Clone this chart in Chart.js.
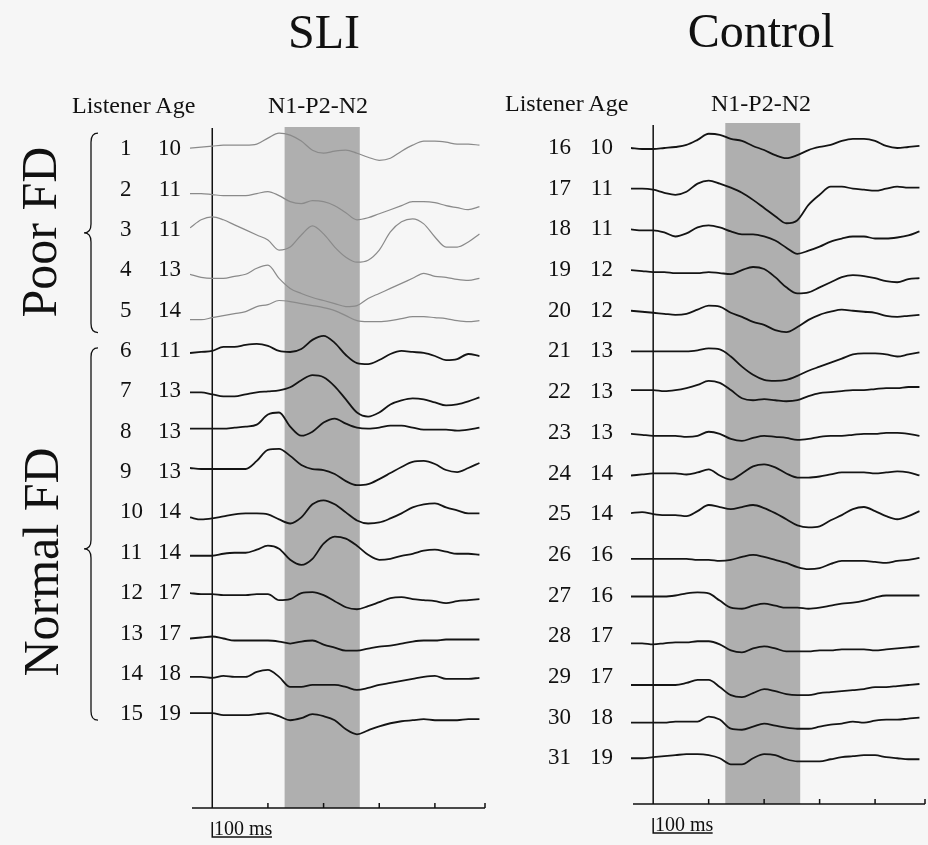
<!DOCTYPE html>
<html>
<head>
<meta charset="utf-8">
<script src="https://cdn.jsdelivr.net/npm/chart.js@4.4.0/dist/chart.umd.min.js"></script>
<style>
  body { margin: 0; background: #f6f6f6; }
  #page { position: relative; width: 928px; height: 845px; overflow: hidden; font-family: "Liberation Serif", "Times New Roman", serif; color: #111; }
  canvas { position: absolute; top: 0; }
  .txt { position: absolute; white-space: nowrap; line-height: 1; }
</style>
</head>
<body>
<div id="page">
  <canvas id="sliChart" width="500" height="845" style="left:0"></canvas>
  <canvas id="controlChart" width="428" height="845" style="left:500px"></canvas>

  <div class="txt" style="left:324px;top:8px;font-size:48px;transform:translateX(-50%)">SLI</div>
  <div class="txt" style="left:761px;top:7px;font-size:48px;transform:translateX(-50%)">Control</div>
  <div class="txt" style="left:72px;top:93px;font-size:24px">Listener Age</div>
  <div class="txt" style="left:318px;top:93px;font-size:24px;transform:translateX(-50%)">N1-P2-N2</div>
  <div class="txt" style="left:505px;top:91px;font-size:24px">Listener Age</div>
  <div class="txt" style="left:761px;top:91px;font-size:24px;transform:translateX(-50%)">N1-P2-N2</div>
  <div class="txt" style="left:39px;top:232px;font-size:50px;transform:translate(-50%,-50%) rotate(-90deg)">Poor FD</div>
  <div class="txt" style="left:41px;top:562px;font-size:50px;transform:translate(-50%,-50%) rotate(-90deg)">Normal FD</div>
  <div class="txt" style="left:214px;top:818px;font-size:20px">100 ms</div>
  <div class="txt" style="left:655px;top:814px;font-size:20px">100 ms</div>
</div>

<script>
// time of each sample (ms)
var times = [-40, -20, 0, 20, 40, 60, 80, 100, 120, 140, 160, 180, 200, 220, 240, 260, 280, 300, 320, 340, 360, 380, 400, 420, 440, 460, 480];
var msTicks = [0, 100, 200, 300, 400, 490];
var windowMs = [130, 265]; // N1-P2-N2 window
var scaleBarMs = 100;
var rowGap = 40;

var sliListeners = [1, 2, 3, 4, 5, 6, 7, 8, 9, 10, 11, 12, 13, 14, 15];
var sliAges = [10, 11, 11, 13, 14, 11, 13, 13, 13, 14, 14, 17, 17, 18, 19];
var controlListeners = [16, 17, 18, 19, 20, 21, 22, 23, 24, 25, 26, 27, 28, 29, 30, 31];
var controlAges = [10, 11, 11, 12, 12, 13, 13, 13, 14, 14, 16, 16, 17, 17, 18, 19];

// poor FD = first five SLI listeners
var poorFdRows = [0, 1, 2, 3, 4];
var normalFdRows = [5, 6, 7, 8, 9, 10, 11, 12, 13, 14];

var sliWaves = [
  [1, 2, 3, 4, 4, 4, 5, 11, 16, 14, 8, -1, -4, -2, -1, -4, -8, -11, -9, -2, 4, 8, 8, 7, 5, 5, 4],
  [-4, -4, -5, -6, -6, -6, -4, -2, -6, -12, -14, -11, -12, -16, -23, -30, -28, -24, -20, -16, -12, -12, -13, -16, -18, -20, -17],
  [2, 10, 13, 10, 5, 0, -5, -10, -20, -17, -5, 4, -4, -17, -27, -32, -30, -20, -2, 8, 11, 6, -7, -17, -17, -12, -4],
  [-4, -7, -8, -8, -6, -4, 2, 5, -8, -18, -23, -27, -30, -33, -36, -35, -28, -23, -18, -13, -8, -3, -6, -7, -9, -10, -8],
  [-9, -9, -7, -5, -3, -1, 4, 6, 10, 9, 7, 5, 3, 0, -5, -10, -11, -11, -10, -8, -6, -6, -7, -8, -10, -11, -10],
  [-2, -1, 0, 4, 4, 6, 7, 5, 0, -1, 2, 11, 15, 8, -4, -12, -13, -9, -3, 0, -1, -2, -5, -9, -8, -3, -5],
  [-1, -1, -3, -5, -5, -3, -1, 0, 1, 4, 11, 16, 14, 5, -8, -21, -25, -21, -13, -9, -7, -8, -11, -14, -13, -10, -6],
  [3, 3, 3, 3, 4, 5, 7, 17, 19, 5, -4, 0, 9, 13, 8, 4, 3, 4, 6, 6, 4, 2, 2, 2, 1, 2, 4],
  [4, 3, 3, 3, 3, 3, 11, 22, 23, 16, 7, 3, 2, -2, -9, -13, -12, -7, -1, 5, 10, 11, 8, 2, 0, 4, 9],
  [-5, -7, -6, -4, -2, -1, -1, -2, -7, -11, -5, 8, 12, 8, 0, -8, -11, -10, -6, -1, 5, 8, 9, 5, 2, -1, -1],
  [-3, -3, -3, -1, 0, 0, 3, 7, 4, -7, -12, -6, 9, 16, 14, 7, -2, -7, -6, -3, -1, 2, 3, 1, -1, -1, -2],
  [0, -1, -1, -2, -2, -2, -1, -1, -7, -6, 0, 1, -2, -8, -14, -16, -13, -9, -5, -4, -6, -7, -8, -10, -8, -7, -6],
  [-5, -4, -3, -5, -7, -7, -7, -7, -8, -10, -8, -7, -11, -14, -17, -17, -15, -13, -12, -10, -8, -7, -7, -6, -6, -6, -6],
  [-3, -3, -4, -2, -3, -3, 2, 4, -3, -13, -13, -11, -11, -11, -13, -16, -14, -11, -9, -7, -5, -3, -2, -5, -5, -5, -4],
  [1, 1, 1, -1, -1, -1, 0, 1, -2, -6, -4, 0, -2, -6, -15, -20, -16, -12, -9, -7, -6, -5, -6, -6, -6, -5, -5]
];

var controlWaves = [
  [0, -1, -1, 0, 1, 3, 8, 14, 13, 9, 7, 2, -2, -7, -10, -7, -2, 1, 3, 7, 9, 9, 7, 2, 0, 1, 2],
  [0, 0, -1, -4, -6, -3, 5, 8, 5, 1, -4, -11, -19, -27, -34, -31, -16, -6, 2, 2, 0, -1, -2, 0, 2, 1, 1],
  [0, -1, -1, -3, -7, -4, 2, 4, 2, -2, -5, -5, -7, -11, -18, -24, -21, -17, -12, -9, -7, -7, -9, -9, -8, -6, -2],
  [0, -1, -2, -2, -3, -3, -3, -2, -3, -4, 0, 3, 1, -7, -17, -23, -22, -17, -12, -7, -5, -6, -8, -11, -12, -9, -8],
  [0, -1, -2, -3, -4, -3, 1, 5, 4, -2, -6, -11, -14, -19, -21, -16, -9, -4, -1, 1, 0, -1, -2, -5, -6, -5, -4],
  [0, 0, 0, 0, 0, 0, 1, 3, 2, -5, -15, -23, -28, -29, -28, -24, -19, -15, -11, -7, -3, -2, -2, -3, -5, -3, -1],
  [2, 2, 2, 1, 2, 4, 7, 11, 9, 2, -6, -8, -7, -8, -9, -8, -4, -1, 0, 1, 2, 2, 3, 4, 4, 5, 5],
  [-1, -2, -3, -3, -3, -4, -3, 1, -1, -6, -8, -5, -3, -4, -5, -7, -6, -4, -3, -3, -2, -1, -1, 0, 0, -1, -3],
  [-2, -1, 0, 0, 0, -1, 1, 4, -2, -6, 0, 7, 9, 6, 0, -4, -4, -3, -1, 1, 1, 1, 0, 1, 2, 1, -2],
  [1, 2, 0, -1, -1, -2, 3, 9, 7, 5, 7, 9, 6, 1, -5, -11, -13, -12, -6, -1, 5, 7, 3, -2, -5, -2, 3],
  [-4, -4, -4, -4, -4, -4, -5, -5, -6, -5, -2, 0, -2, -5, -8, -12, -14, -13, -9, -6, -6, -6, -7, -8, -6, -5, -3],
  [-1, -1, -1, -1, 0, 2, 3, 2, -5, -12, -13, -10, -8, -10, -12, -12, -13, -12, -10, -8, -7, -5, -2, 0, 0, 0, 0],
  [-7, -7, -8, -7, -6, -6, -5, -5, -8, -14, -16, -12, -10, -12, -15, -15, -15, -14, -14, -13, -13, -13, -14, -13, -12, -11, -10],
  [-8, -8, -8, -8, -8, -6, -3, -3, -10, -18, -20, -16, -12, -14, -17, -18, -18, -16, -15, -14, -13, -12, -10, -10, -9, -8, -7],
  [-5, -5, -5, -5, -4, -4, -4, 1, -2, -11, -12, -9, -6, -8, -10, -11, -11, -9, -7, -6, -4, -5, -3, -2, -2, -1, 0],
  [0, 0, 1, 2, 3, 4, 4, 3, 0, -6, -6, 0, 4, 3, -1, -3, -3, -3, -1, 1, 2, 3, 3, 1, 0, -1, -1]
];

var labelFont = { family: "'Liberation Serif', 'Times New Roman', serif", size: 23 };

function drawBrace(ctx, xl, xm, xr, top, tip, bot) {
  var r = 9;
  ctx.beginPath();
  ctx.moveTo(xr, top);
  ctx.quadraticCurveTo(xm, top, xm, top + r);
  ctx.lineTo(xm, tip - r);
  ctx.quadraticCurveTo(xm, tip, xl, tip);
  ctx.quadraticCurveTo(xm, tip, xm, tip + r);
  ctx.lineTo(xm, bot - r);
  ctx.quadraticCurveTo(xm, bot, xr, bot);
  ctx.stroke();
}

// grey window, axes, 100 ms bar and group braces
var panelDecor = {
  id: "panelDecor",
  beforeDatasetsDraw: function (chart, args, opts) {
    var ctx = chart.ctx;
    var area = chart.chartArea;
    var x = chart.scales.x;
    var y = chart.scales.y;
    var x0 = x.getPixelForValue(0);
    ctx.save();

    var b1 = x.getPixelForValue(windowMs[0]);
    var b2 = x.getPixelForValue(windowMs[1]);
    ctx.fillStyle = "#afafaf";
    ctx.fillRect(b1, area.top + opts.bandTop, b2 - b1, area.bottom - area.top - opts.bandTop);

    ctx.strokeStyle = "#111";
    ctx.lineWidth = 1.5;
    ctx.beginPath();
    ctx.moveTo(x0, area.top + opts.axisTop);
    ctx.lineTo(x0, area.bottom);
    ctx.moveTo(area.left + 2, area.bottom);
    ctx.lineTo(area.right, area.bottom);
    x.ticks.forEach(function (t) {
      var px = x.getPixelForValue(t.value);
      ctx.moveTo(px, area.bottom);
      ctx.lineTo(px, area.bottom - 5);
    });
    var sb = x.getPixelForValue(scaleBarMs);
    ctx.moveTo(x0, area.bottom + 14);
    ctx.lineTo(x0, area.bottom + 29);
    ctx.lineTo(sb + 4, area.bottom + 29);
    ctx.stroke();

    ctx.lineWidth = 1.3;
    (opts.braces || []).forEach(function (br) {
      var top = y.getPixelForValue(-br.rows[0] * rowGap) - br.padTop;
      var bot = y.getPixelForValue(-br.rows[br.rows.length - 1] * rowGap) + br.padBottom;
      drawBrace(ctx, 84, 91, 98, top, top + (bot - top) * br.tip, bot);
    });
    ctx.restore();
  }
};

function makeDatasets(waves, grayRows) {
  return waves.map(function (wave, i) {
    var gray = grayRows.indexOf(i) >= 0;
    return {
      data: times.map(function (t, j) {
        return { x: t, y: -i * rowGap + wave[j] };
      }),
      borderColor: gray ? "#8a8a8a" : "#141414",
      borderWidth: gray ? 1.2 : 1.8,
      pointRadius: 0,
      cubicInterpolationMode: "monotone",
      fill: false
    };
  });
}

function buildPanel(canvasId, listeners, ages, waves, grayRows, lay) {
  var rowTicks = function (scale) {
    scale.ticks = listeners.map(function (_, i) {
      return { value: -i * rowGap };
    });
  };
  var yBase = {
    min: lay.yMin,
    max: lay.yMax,
    position: "left",
    afterBuildTicks: rowTicks,
    grid: { display: false, drawTicks: false },
    border: { display: false }
  };
  return new Chart(document.getElementById(canvasId), {
    type: "line",
    data: { datasets: makeDatasets(waves, grayRows) },
    options: {
      responsive: false,
      animation: false,
      layout: { padding: lay.padding },
      plugins: {
        legend: { display: false },
        tooltip: { enabled: false },
        panelDecor: lay.decor
      },
      scales: {
        x: {
          type: "linear",
          min: -40,
          max: 490,
          afterBuildTicks: function (scale) {
            scale.ticks = msTicks.map(function (v) { return { value: v }; });
          },
          afterFit: function (s) { s.height = 0; },
          ticks: { display: false },
          grid: { display: false, drawTicks: false },
          border: { display: false }
        },
        y: Object.assign({}, yBase, {
          weight: 0,
          afterFit: function (s) { s.width = lay.ageWidth; },
          ticks: {
            autoSkip: false,
            padding: lay.agePad,
            font: labelFont,
            color: "#111",
            callback: function (v, i) { return String(ages[i]); }
          }
        }),
        yNum: Object.assign({}, yBase, {
          weight: 1,
          afterFit: function (s) { s.width = lay.numWidth; },
          ticks: {
            autoSkip: false,
            crossAlign: "far",
            font: labelFont,
            color: "#111",
            callback: function (v, i) { return String(listeners[i]); }
          }
        })
      }
    },
    plugins: [panelDecor]
  });
}

buildPanel("sliChart", sliListeners, sliAges, sliWaves, poorFdRows, {
  padding: { top: 128, bottom: 37, left: 120, right: 15 },
  yMin: -653, yMax: 21,
  ageWidth: 40, agePad: 9, numWidth: 30,
  decor: {
    axisTop: 0, bandTop: -1,
    braces: [
      { rows: poorFdRows, padTop: 16, padBottom: 22, tip: 0.5 },
      { rows: normalFdRows, padTop: 3, padBottom: 6, tip: 0.54 }
    ]
  }
});

buildPanel("controlChart", controlListeners, controlAges, controlWaves, [], {
  padding: { top: 124, bottom: 41, left: 48, right: 3 },
  yMin: -645, yMax: 23.6,
  ageWidth: 45, agePad: 18, numWidth: 38,
  decor: { axisTop: 1, bandTop: -1, braces: [] }
});
</script>
</body>
</html>
